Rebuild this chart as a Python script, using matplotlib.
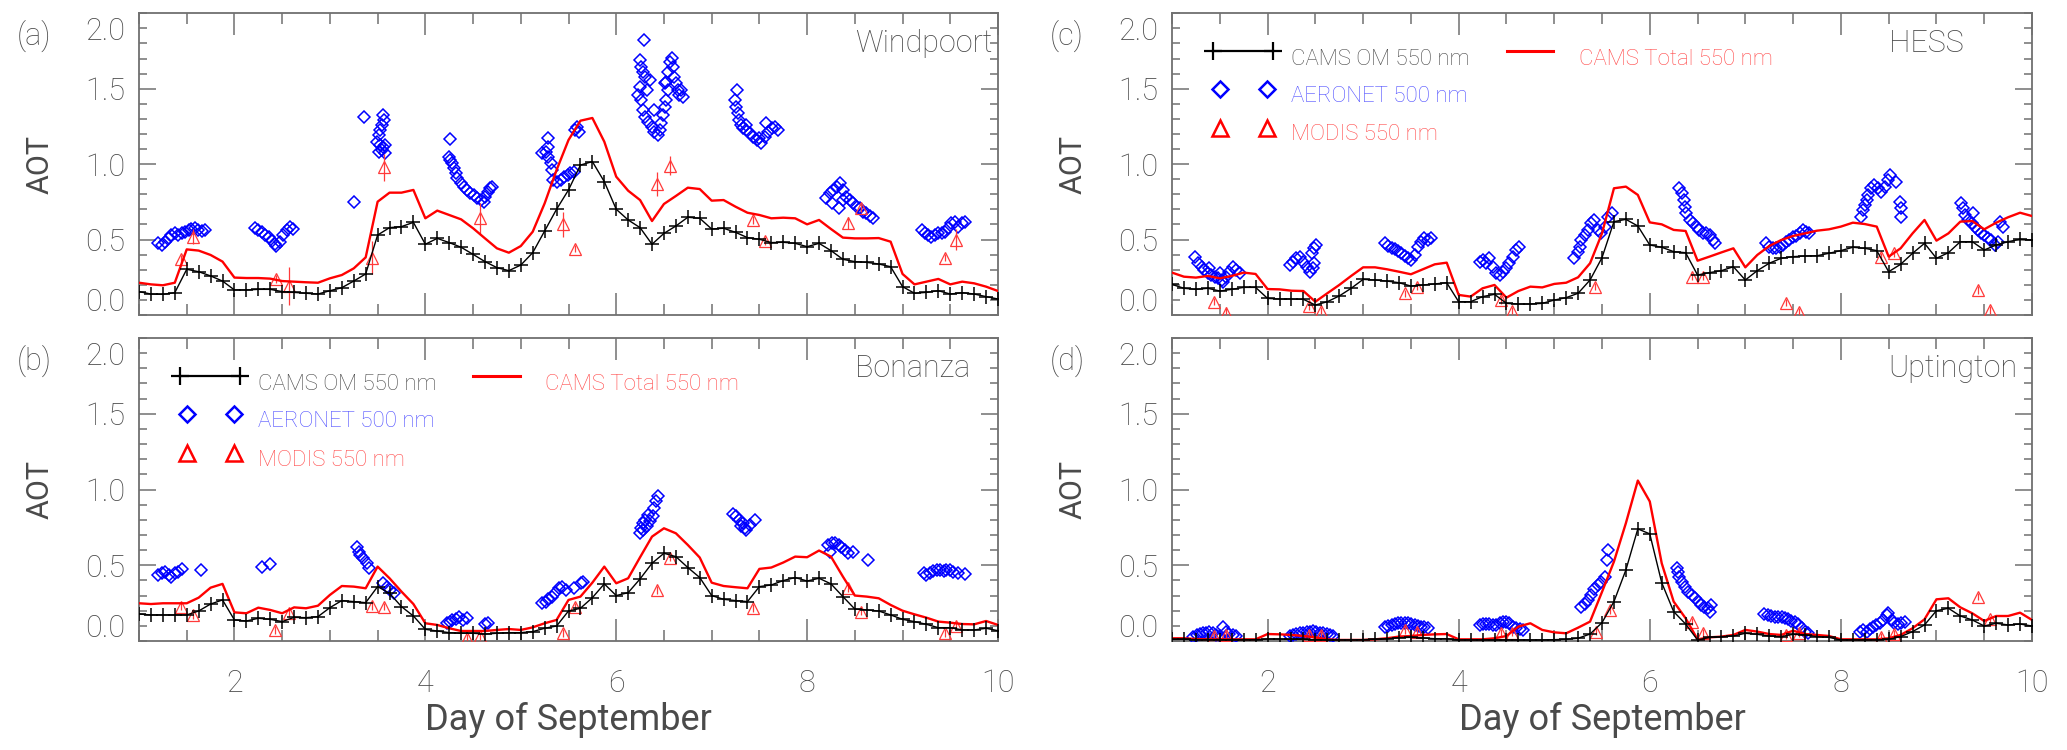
import numpy as np
import matplotlib
matplotlib.use("Agg")
import matplotlib.pyplot as plt
from matplotlib.ticker import MultipleLocator, FixedLocator

plt.rcParams['font.family'] = ['Roboto', 'DejaVu Sans']
plt.rcParams['font.weight'] = 'light'

# ---------------- data ----------------
# CAMS model time grid (3-hourly), day of September
t_model = np.arange(73) * 0.125 + 1.0

stations = ['Windpoort', 'Bonanza', 'HESS', 'Uptington']
panel_tags = ['(a)', '(b)', '(c)', '(d)']

om_a = [0.155,0.139,0.137,0.148,0.303,0.287,0.259,0.225,0.166,0.166,0.170,0.170,0.155,0.150,0.144,0.139,
        0.161,0.181,0.225,0.272,0.530,0.579,0.586,0.614,0.469,0.508,0.480,0.449,0.402,0.354,0.314,0.294,
        0.331,0.413,0.557,0.701,0.829,0.994,1.017,0.884,0.701,0.630,0.579,0.469,0.541,0.590,0.648,0.641,
        0.570,0.575,0.548,0.513,0.502,0.480,0.482,0.475,0.453,0.475,0.427,0.369,0.354,0.349,0.338,0.320,
        0.188,0.144,0.150,0.161,0.139,0.148,0.139,0.122,0.106]
tot_a = [0.214,0.203,0.197,0.214,0.435,0.427,0.398,0.354,0.248,0.245,0.245,0.241,0.225,0.221,0.217,0.214,
         0.243,0.265,0.309,0.382,0.751,0.811,0.811,0.829,0.641,0.692,0.663,0.634,0.575,0.508,0.442,0.413,
         0.457,0.552,0.740,0.961,1.160,1.288,1.306,1.149,0.917,0.824,0.762,0.623,0.736,0.789,0.844,0.835,
         0.758,0.762,0.718,0.678,0.663,0.641,0.645,0.641,0.601,0.630,0.570,0.513,0.508,0.508,0.510,0.486,
         0.272,0.203,0.221,0.239,0.203,0.221,0.210,0.188,0.159]
om_b = [0.178,0.172,0.172,0.172,0.172,0.198,0.244,0.271,0.139,0.132,0.150,0.143,0.128,0.156,0.154,0.161,
        0.220,0.267,0.260,0.253,0.359,0.315,0.227,0.165,0.077,0.066,0.055,0.051,0.051,0.046,0.051,0.055,
        0.055,0.062,0.084,0.099,0.198,0.216,0.286,0.377,0.300,0.319,0.410,0.513,0.579,0.557,0.485,0.419,
        0.300,0.275,0.267,0.260,0.359,0.370,0.399,0.419,0.396,0.414,0.377,0.293,0.211,0.205,0.198,0.172,
        0.143,0.128,0.110,0.088,0.088,0.073,0.073,0.084,0.068]
tot_b = [0.249,0.244,0.249,0.249,0.249,0.286,0.352,0.377,0.189,0.183,0.220,0.205,0.183,0.222,0.216,0.233,
         0.304,0.363,0.359,0.348,0.491,0.414,0.326,0.244,0.117,0.106,0.084,0.066,0.066,0.066,0.073,0.079,
         0.073,0.090,0.117,0.139,0.271,0.293,0.385,0.491,0.381,0.414,0.553,0.689,0.744,0.711,0.634,0.551,
         0.385,0.363,0.355,0.348,0.476,0.485,0.518,0.557,0.553,0.597,0.557,0.425,0.300,0.293,0.282,0.238,
         0.200,0.176,0.154,0.128,0.121,0.112,0.110,0.132,0.106]
om_c = [0.203,0.177,0.170,0.177,0.159,0.170,0.183,0.183,0.110,0.106,0.106,0.104,0.066,0.088,0.126,0.177,
        0.236,0.232,0.225,0.214,0.192,0.199,0.206,0.214,0.088,0.088,0.122,0.137,0.077,0.073,0.073,0.077,
        0.099,0.115,0.144,0.232,0.380,0.619,0.634,0.590,0.464,0.449,0.420,0.413,0.265,0.281,0.294,0.320,
        0.232,0.294,0.343,0.376,0.387,0.391,0.393,0.409,0.427,0.449,0.442,0.427,0.287,0.336,0.409,0.475,
        0.376,0.413,0.486,0.486,0.431,0.464,0.486,0.502,0.497]
tot_c = [0.281,0.254,0.248,0.259,0.243,0.259,0.281,0.272,0.172,0.170,0.161,0.159,0.088,0.144,0.199,0.259,
         0.316,0.316,0.303,0.287,0.270,0.303,0.336,0.347,0.133,0.122,0.177,0.199,0.115,0.159,0.188,0.183,
         0.206,0.214,0.250,0.343,0.541,0.840,0.851,0.796,0.614,0.601,0.564,0.557,0.360,0.387,0.415,0.442,
         0.316,0.398,0.457,0.497,0.524,0.541,0.559,0.568,0.586,0.612,0.603,0.586,0.387,0.442,0.541,0.630,
         0.493,0.541,0.619,0.623,0.568,0.612,0.648,0.678,0.656]
om_d = [0.011,0.011,0.009,0.009,0.009,0.009,0.009,0.009,0.013,0.013,0.011,0.011,0.009,0.007,0.007,0.007,
        0.009,0.011,0.015,0.022,0.024,0.020,0.015,0.015,0.007,0.007,0.007,0.007,0.007,0.007,0.007,0.007,
        0.009,0.011,0.018,0.046,0.121,0.260,0.469,0.740,0.707,0.385,0.194,0.112,0.007,0.024,0.029,0.033,
        0.051,0.044,0.033,0.029,0.044,0.040,0.029,0.024,0.007,0.007,0.007,0.007,0.011,0.029,0.062,0.106,
        0.200,0.216,0.165,0.139,0.099,0.117,0.106,0.112,0.099]
tot_d = [0.018,0.018,0.013,0.011,0.011,0.011,0.011,0.011,0.046,0.044,0.040,0.033,0.024,0.011,0.007,0.007,
         0.007,0.011,0.018,0.029,0.033,0.040,0.044,0.046,0.011,0.011,0.011,0.018,0.033,0.095,0.117,0.073,
         0.057,0.051,0.088,0.128,0.324,0.524,0.778,1.059,0.921,0.513,0.260,0.150,0.011,0.024,0.029,0.040,
         0.073,0.062,0.046,0.040,0.068,0.046,0.040,0.033,0.011,0.011,0.011,0.011,0.018,0.040,0.084,0.143,
         0.275,0.282,0.222,0.183,0.132,0.165,0.165,0.187,0.139]

# AERONET 500 nm
aer_a_t = [1.20,1.24,1.27,1.31,1.34,1.38,1.41,1.45,1.48,1.52,1.55,1.59,1.62,1.66,1.69,
           2.22,2.25,2.29,2.32,2.36,2.39,2.43,2.44,2.48,2.51,2.55,2.58,2.61,
           3.25,3.36,3.56,3.57,3.55,3.52,3.51,3.49,3.53,3.56,3.58,3.55,3.51,3.58,
           4.26,4.25,4.26,4.28,4.30,4.32,4.33,4.37,4.40,4.44,4.47,4.51,4.54,4.58,4.61,4.63,4.66,4.68,4.70,
           5.22,5.26,5.29,5.29,5.28,5.32,5.33,5.34,5.38,5.42,5.45,5.49,5.52,5.56,5.57,5.59,5.61,
           6.29,6.25,6.26,6.28,6.30,6.25,6.23,6.26,6.28,6.30,6.33,6.37,6.40,6.44,6.46,6.47,6.49,6.51,
           6.52,6.54,6.52,6.54,6.56,6.58,6.59,6.61,6.63,6.65,6.66,6.68,6.70,6.51,6.32,6.35,6.40,
           7.27,7.24,7.26,7.28,7.29,7.31,7.33,7.36,7.40,7.43,7.47,7.50,7.52,7.56,7.59,7.63,7.66,7.70,7.57,7.36,
           8.20,8.24,8.27,8.31,8.34,8.38,8.41,8.45,8.48,8.52,8.55,8.59,8.62,8.66,8.69,8.26,8.33,8.38,
           9.20,9.23,9.27,9.30,9.34,9.37,9.41,9.44,9.48,9.51,9.55,9.58,9.62,9.65]
aer_a_v = [0.480,0.464,0.486,0.508,0.530,0.541,0.530,0.541,0.552,0.564,0.568,0.575,0.564,0.559,0.564,
           0.575,0.564,0.548,0.530,0.515,0.493,0.471,0.457,0.486,0.530,0.564,0.586,0.568,
           0.751,1.310,1.326,1.293,1.260,1.227,1.193,1.149,1.127,1.116,1.127,1.094,1.083,1.072,
           1.165,1.050,1.028,1.006,0.972,0.939,0.906,0.877,0.851,0.829,0.811,0.796,0.773,0.762,0.751,0.785,0.818,0.840,0.851,
           1.072,1.083,1.171,1.116,1.050,1.006,0.961,0.895,0.884,0.895,0.917,0.928,0.939,0.950,1.227,1.249,1.215,
           1.823,1.691,1.646,1.613,1.580,1.514,1.459,1.425,1.359,1.315,1.282,1.249,1.215,1.193,1.227,1.271,1.326,1.381,
           1.425,1.492,1.547,1.613,1.680,1.702,1.646,1.580,1.536,1.492,1.459,1.492,1.448,1.536,1.492,1.558,1.359,
           1.492,1.425,1.381,1.337,1.293,1.260,1.238,1.227,1.204,1.182,1.160,1.171,1.138,1.182,1.215,1.238,1.249,1.227,1.271,1.260,
           0.773,0.807,0.829,0.851,0.877,0.829,0.785,0.762,0.740,0.718,0.707,0.685,0.674,0.656,0.641,0.740,0.707,0.762,
           0.564,0.541,0.530,0.519,0.530,0.546,0.541,0.552,0.575,0.608,0.619,0.586,0.608,0.619]
aer_b_t = [1.20,1.24,1.27,1.31,1.34,1.38,1.41,1.45,1.65,2.29,2.37,
           3.28,3.30,3.32,3.35,3.39,3.41,3.56,3.60,3.63,3.67,
           4.23,4.26,4.28,4.32,4.35,4.39,4.44,4.63,4.66,
           5.22,5.26,5.29,5.33,5.36,5.40,5.43,5.47,5.56,5.63,5.65,
           6.25,6.26,6.28,6.30,6.32,6.35,6.39,6.40,6.42,6.44,6.33,6.28,
           7.22,7.26,7.29,7.33,7.35,7.36,7.40,7.45,7.31,
           8.22,8.26,8.29,8.33,8.36,8.40,8.43,8.48,8.64,8.24,
           9.22,9.25,9.29,9.32,9.36,9.39,9.43,9.46,9.50,9.53,9.58,9.65]
aer_b_v = [0.436,0.447,0.458,0.436,0.425,0.447,0.458,0.474,0.469,0.491,0.507,
           0.619,0.590,0.568,0.546,0.513,0.480,0.381,0.359,0.337,0.315,
           0.121,0.128,0.139,0.143,0.156,0.139,0.150,0.112,0.117,
           0.249,0.260,0.275,0.293,0.315,0.348,0.359,0.337,0.352,0.385,0.392,
           0.711,0.744,0.778,0.800,0.756,0.789,0.822,0.877,0.921,0.954,0.833,0.733,
           0.837,0.822,0.800,0.778,0.744,0.733,0.767,0.800,0.756,
           0.634,0.645,0.650,0.634,0.623,0.601,0.579,0.590,0.535,0.590,
           0.447,0.436,0.452,0.465,0.469,0.469,0.465,0.469,0.469,0.458,0.447,0.441]
aer_c_t = [1.24,1.27,1.31,1.34,1.38,1.41,1.45,1.48,1.52,1.53,1.57,1.60,1.64,1.67,1.71,1.39,1.50,
           2.24,2.27,2.30,2.34,2.37,2.41,2.44,2.48,2.49,2.46,2.49,2.51,
           3.23,3.26,3.30,3.33,3.37,3.40,3.44,3.47,3.50,3.54,3.57,3.61,3.64,3.68,3.71,
           4.22,4.25,4.29,4.32,4.36,4.39,4.43,4.46,4.50,4.53,4.57,4.60,4.63,
           5.21,5.25,5.27,5.28,5.32,5.35,5.39,5.42,5.46,5.49,5.53,5.56,5.60,
           6.31,6.34,6.36,6.37,6.38,6.42,6.45,6.49,6.52,6.56,6.59,6.63,6.66,6.68,
           7.22,7.25,7.29,7.32,7.36,7.39,7.43,7.46,7.50,7.53,7.57,7.60,7.64,7.67,
           8.21,8.23,8.25,8.27,8.28,8.32,8.35,8.39,8.42,8.46,8.49,8.51,8.58,8.62,8.63,8.63,
           9.26,9.28,9.30,9.33,9.37,9.40,9.43,9.47,9.50,9.54,9.57,9.61,9.64,9.66,9.70,9.38]
aer_c_v = [0.382,0.343,0.320,0.298,0.281,0.265,0.254,0.243,0.232,0.221,0.254,0.287,0.320,0.298,0.276,0.309,0.276,
           0.331,0.354,0.376,0.387,0.354,0.320,0.287,0.309,0.343,0.409,0.442,0.464,
           0.475,0.457,0.442,0.435,0.427,0.409,0.391,0.376,0.365,0.398,0.453,0.486,0.508,0.497,0.508,
           0.354,0.365,0.343,0.376,0.320,0.276,0.265,0.287,0.309,0.343,0.387,0.431,0.453,
           0.376,0.420,0.453,0.497,0.530,0.564,0.608,0.630,0.564,0.541,0.586,0.652,0.674,
           0.840,0.807,0.762,0.718,0.674,0.630,0.608,0.586,0.564,0.541,0.541,0.530,0.497,0.475,
           0.475,0.453,0.442,0.442,0.453,0.464,0.486,0.497,0.515,0.524,0.541,0.564,0.552,0.541,
           0.652,0.696,0.729,0.762,0.796,0.840,0.862,0.840,0.818,0.851,0.895,0.928,0.884,0.751,0.707,0.652,
           0.740,0.707,0.663,0.630,0.608,0.586,0.564,0.541,0.530,0.508,0.497,0.464,0.486,0.619,0.586,0.674]
aer_d_t = [1.22,1.26,1.29,1.32,1.36,1.39,1.43,1.46,1.50,1.53,1.57,1.60,1.64,1.67,
           2.23,2.27,2.30,2.34,2.37,2.41,2.44,2.48,2.51,2.55,2.58,2.62,2.65,2.69,
           3.23,3.26,3.30,3.33,3.37,3.40,3.44,3.47,3.50,3.54,3.57,3.61,3.64,3.68,
           4.22,4.25,4.29,4.32,4.36,4.39,4.43,4.46,4.50,4.53,4.57,4.60,4.64,4.67,
           5.28,5.32,5.35,5.39,5.42,5.46,5.49,5.53,5.55,5.56,
           6.28,6.30,6.31,6.34,6.37,6.40,6.44,6.47,6.51,6.54,6.57,6.61,6.64,6.63,
           7.20,7.24,7.27,7.31,7.34,7.38,7.41,7.45,7.48,7.52,7.55,7.59,7.62,7.66,
           8.20,8.23,8.27,8.30,8.34,8.37,8.41,8.44,8.48,8.49,8.53,8.56,8.60,8.63,8.67]
aer_d_v = [0.029,0.040,0.046,0.051,0.055,0.062,0.051,0.040,0.033,0.095,0.062,0.046,0.040,0.033,
           0.033,0.040,0.046,0.051,0.055,0.062,0.062,0.066,0.062,0.055,0.051,0.046,0.040,0.033,
           0.095,0.099,0.106,0.112,0.117,0.121,0.121,0.117,0.110,0.106,0.099,0.095,0.090,0.084,
           0.106,0.110,0.112,0.110,0.106,0.106,0.117,0.128,0.128,0.117,0.095,0.084,0.077,0.073,
           0.227,0.244,0.271,0.304,0.341,0.370,0.392,0.425,0.535,0.601,
           0.480,0.458,0.425,0.392,0.359,0.326,0.304,0.282,0.260,0.238,0.227,0.216,0.238,0.194,
           0.178,0.172,0.165,0.156,0.161,0.156,0.150,0.143,0.134,0.128,0.112,0.084,0.062,0.051,
           0.062,0.073,0.062,0.077,0.095,0.106,0.117,0.139,0.172,0.183,0.139,0.117,0.112,0.117,0.128]

# MODIS 550 nm (value and error)
mod_a_t = [1.44,1.57,2.44,2.57,3.44,3.57,4.57,5.44,5.57,6.43,6.56,7.43,7.56,8.43,8.56,9.44,9.56]
mod_a_v = [0.37,0.52,0.24,0.19,0.38,0.98,0.64,0.60,0.44,0.87,0.99,0.63,0.49,0.61,0.71,0.38,0.50]
mod_a_e = [0.025,0.05,0.025,0.125,0.11,0.09,0.10,0.08,0.025,0.08,0.065,0.025,0.025,0.04,0.025,0.025,0.07]
mod_b_t = [1.44,1.57,2.43,2.57,3.44,3.57,4.44,4.57,5.44,5.57,6.43,6.56,7.43,8.43,8.56,9.44,9.56]
mod_b_v = [0.227,0.172,0.073,0.183,0.231,0.227,0.018,0.033,0.051,0.227,0.337,0.551,0.216,0.348,0.194,0.051,0.099]
mod_b_e = [0.025] * 17
mod_c_t = [1.44,1.56,2.43,2.56,3.44,3.56,4.44,4.56,5.43,6.44,6.56,7.43,7.56,8.42,8.56,9.43,9.56]
mod_c_v = [0.088,0.011,0.060,0.029,0.144,0.188,0.099,0.029,0.188,0.254,0.254,0.082,0.022,0.387,0.409,0.166,0.033]
mod_c_e = [0.025,0.04,0.025,0.025,0.025,0.025,0.025,0.025,0.025,0.025,0.025,0.025,0.025,0.025,0.025,0.025,0.025]
mod_d_t = [1.44,1.57,2.43,2.56,3.44,3.56,4.44,4.56,5.44,5.58,6.44,6.56,7.43,7.56,8.42,8.56,9.43,9.56]
mod_d_v = [0.033,0.040,0.040,0.040,0.073,0.062,0.051,0.055,0.062,0.205,0.128,0.051,0.040,0.051,0.029,0.046,0.293,0.143]
mod_d_e = [0.025] * 18

ytick_pos = [0.1, 0.5, 1.0, 1.5, 1.9]
ytick_lab = ['0.0', '0.5', '1.0', '1.5', '2.0']
xtick_pos = [2, 4, 6, 8, 10]

# ---------------- styles ----------------
TXT = '#4a4a4a'
AX = '#707070'
BLUE = '#0000ff'
RED = '#ff0000'
TRI = '#ff3a3a'

fig = plt.figure(figsize=(20.67, 7.5), dpi=100)
W, H = 2067.0, 750.0
boxes = [
    (139, 13.3, 998, 315),
    (139, 338, 998, 641),
    (1172, 13.3, 2032, 315),
    (1172, 338, 2032, 641),
]
axes = []
for (x0, y0, x1, y1) in boxes:
    axes.append(fig.add_axes([x0 / W, 1 - y1 / H, (x1 - x0) / W, (y1 - y0) / H]))

panels = [
    (om_a, tot_a, aer_a_t, aer_a_v, mod_a_t, mod_a_v, mod_a_e),
    (om_b, tot_b, aer_b_t, aer_b_v, mod_b_t, mod_b_v, mod_b_e),
    (om_c, tot_c, aer_c_t, aer_c_v, mod_c_t, mod_c_v, mod_c_e),
    (om_d, tot_d, aer_d_t, aer_d_v, mod_d_t, mod_d_v, mod_d_e),
]


def draw_legend(ax):
    tr = ax.transAxes
    ax.plot([0.048, 0.118], [0.875, 0.875], transform=tr, color='k', lw=1.6,
            marker='+', ms=13, mew=1.6, clip_on=False)
    ax.text(0.1385, 0.848, 'CAMS OM 550 nm', transform=tr, color=TXT, fontsize=16, va='center')
    ax.plot([0.389, 0.443], [0.875, 0.875], transform=tr, color=RED, lw=2.2)
    ax.text(0.473, 0.848, 'CAMS Total 550 nm', transform=tr, color='#ff4a4a', fontsize=16, va='center')
    ax.plot([0.0555, 0.111], [0.749, 0.749], transform=tr, ls='none', marker='D', ms=8,
            mfc='none', mec=BLUE, mew=1.8)
    ax.text(0.1385, 0.723, 'AERONET 500 nm', transform=tr, color='#5050ff', fontsize=16, va='center')
    ax.plot([0.0555, 0.111], [0.620, 0.620], transform=tr, ls='none', marker='^', ms=11,
            mfc='none', mec=RED, mew=1.8)
    ax.text(0.1385, 0.597, 'MODIS 550 nm', transform=tr, color='#ff4a4a', fontsize=16, va='center')


for i, ax in enumerate(axes):
    om, tot, at, av, mt, mv, me = panels[i]
    ax.plot(at, av, ls='none', marker='D', ms=6.6, mfc='none', mec=BLUE, mew=1.1, zorder=3)
    ax.errorbar(mt, mv, yerr=me, fmt='none', ecolor=TRI, elinewidth=0.9, capsize=0, zorder=4)
    ax.plot(mt, mv, ls='none', marker='^', ms=9, mfc='none', mec=TRI, mew=0.9, zorder=4)
    ax.plot(t_model, tot, color=RED, lw=1.7, zorder=5)
    ax.plot(t_model, om, color='k', lw=1.0, marker='+', ms=10, mew=1.1, zorder=6)

    ax.set_xlim(1, 10)
    ax.set_ylim(0, 2.0)
    ax.xaxis.set_major_locator(FixedLocator(xtick_pos))
    ax.xaxis.set_minor_locator(MultipleLocator(0.5))
    ax.yaxis.set_major_locator(FixedLocator(ytick_pos))
    ax.yaxis.set_minor_locator(MultipleLocator(0.1))
    ax.set_yticklabels(ytick_lab)
    for sp in ax.spines.values():
        sp.set_color(AX)
        sp.set_linewidth(1.3)
    ax.tick_params(axis='both', which='both', direction='in', top=True, right=True,
                   color=AX, labelcolor=TXT, labelsize=22)
    ax.tick_params(axis='x', which='major', length=16, width=1.1, pad=20)
    ax.tick_params(axis='x', which='minor', length=8, width=1.1)
    ax.tick_params(axis='y', which='major', length=12, width=1.1, pad=10)
    ax.tick_params(axis='y', which='minor', length=6, width=1.1)
    if i in (0, 2):
        ax.tick_params(axis='x', labelbottom=False)
    else:
        ax.set_xlabel('Day of September', fontsize=26, color=TXT, labelpad=3)

    ax.set_ylabel('AOT', fontsize=22, color=TXT)
    ax.yaxis.set_label_coords(-0.098, 0.5)
    ax.text(-0.122, 0.925, panel_tags[i], transform=ax.transAxes, fontsize=22,
            color=TXT, ha='center', va='center')
    ax.text(8.5, 1.80, stations[i], fontsize=22, color=TXT, ha='left', va='center')

    if i in (1, 2):
        draw_legend(ax)

    ticks = ax.yaxis.get_major_ticks()
    for k in (0, len(ticks) - 1):
        ticks[k].tick1line.set_markersize(6)
        ticks[k].tick2line.set_markersize(6)

fig.savefig('out.png', dpi=100)
